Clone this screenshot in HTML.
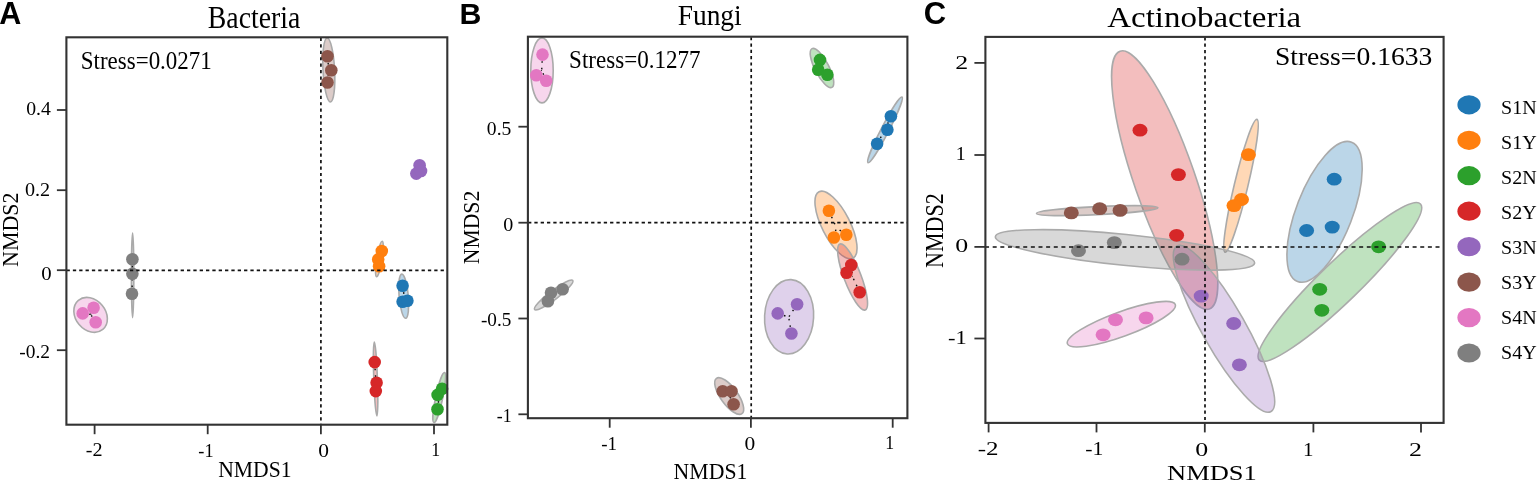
<!DOCTYPE html>
<html><head><meta charset="utf-8"><title>NMDS plots</title>
<style>html,body{margin:0;padding:0;background:#fff;overflow:hidden;}svg{display:block;}</style>
</head><body>
<svg width="1538" height="481" viewBox="0 0 1538 481">
<rect width="1538" height="481" fill="#fff"/>
<text x="-0.7" y="23.8" font-size="30.5" font-family="'Liberation Sans',Arial,sans-serif" font-weight="bold" text-anchor="start">A</text>
<text x="207.8" y="27.5" font-size="31.6" font-family="'Liberation Serif','Times New Roman',serif" font-weight="normal" text-anchor="start" textLength="92.5" lengthAdjust="spacingAndGlyphs">Bacteria</text>
<ellipse cx="328.8" cy="70" rx="32" ry="5.8" transform="rotate(87 328.8 70)" fill="#8c564b" fill-opacity="0.3" stroke="#aaaaaa" stroke-width="1.6"/>
<ellipse cx="132.6" cy="275.3" rx="42.3" ry="1.2" transform="rotate(90 132.6 275.3)" fill="#7f7f7f" fill-opacity="0.3" stroke="#aaaaaa" stroke-width="1.6"/>
<ellipse cx="90.6" cy="314.9" rx="19" ry="15" transform="rotate(50 90.6 314.9)" fill="#e377c2" fill-opacity="0.3" stroke="#aaaaaa" stroke-width="1.6"/>
<ellipse cx="379.4" cy="259" rx="18" ry="2.5" transform="rotate(99 379.4 259)" fill="#ff7f0e" fill-opacity="0.3" stroke="#aaaaaa" stroke-width="1.6"/>
<ellipse cx="403.7" cy="296.2" rx="22.2" ry="4.6" transform="rotate(85 403.7 296.2)" fill="#1f77b4" fill-opacity="0.3" stroke="#aaaaaa" stroke-width="1.6"/>
<ellipse cx="375.6" cy="379" rx="36.9" ry="1.8" transform="rotate(88 375.6 379)" fill="#d62728" fill-opacity="0.3" stroke="#aaaaaa" stroke-width="1.6"/>
<ellipse cx="439.25" cy="397.5" rx="25.6" ry="3.5" transform="rotate(102 439.25 397.5)" fill="#2ca02c" fill-opacity="0.3" stroke="#aaaaaa" stroke-width="1.6"/>
<ellipse cx="419" cy="170" rx="5" ry="2" transform="rotate(60 419 170)" fill="#9467bd" fill-opacity="0.3" stroke="#aaaaaa" stroke-width="1.6"/>
<line x1="327.5" y1="56.3" x2="328.8" y2="69.7" stroke="#111" stroke-width="1.4" stroke-dasharray="1.6 5"/>
<line x1="331.3" y1="70.3" x2="328.8" y2="69.7" stroke="#111" stroke-width="1.4" stroke-dasharray="1.6 5"/>
<line x1="327.5" y1="82.5" x2="328.8" y2="69.7" stroke="#111" stroke-width="1.4" stroke-dasharray="1.6 5"/>
<line x1="419.6" y1="165.3" x2="419.0" y2="170.0" stroke="#111" stroke-width="1.4" stroke-dasharray="1.6 5"/>
<line x1="416.3" y1="173.6" x2="419.0" y2="170.0" stroke="#111" stroke-width="1.4" stroke-dasharray="1.6 5"/>
<line x1="421" y1="171" x2="419.0" y2="170.0" stroke="#111" stroke-width="1.4" stroke-dasharray="1.6 5"/>
<line x1="132.4" y1="259.2" x2="132.3" y2="275.5" stroke="#111" stroke-width="1.4" stroke-dasharray="1.6 5"/>
<line x1="132.4" y1="273.7" x2="132.3" y2="275.5" stroke="#111" stroke-width="1.4" stroke-dasharray="1.6 5"/>
<line x1="132" y1="293.7" x2="132.3" y2="275.5" stroke="#111" stroke-width="1.4" stroke-dasharray="1.6 5"/>
<line x1="82.7" y1="313.4" x2="90.7" y2="314.4" stroke="#111" stroke-width="1.4" stroke-dasharray="1.6 5"/>
<line x1="93.6" y1="307.7" x2="90.7" y2="314.4" stroke="#111" stroke-width="1.4" stroke-dasharray="1.6 5"/>
<line x1="95.7" y1="322.2" x2="90.7" y2="314.4" stroke="#111" stroke-width="1.4" stroke-dasharray="1.6 5"/>
<line x1="381.8" y1="251" x2="379.7" y2="258.9" stroke="#111" stroke-width="1.4" stroke-dasharray="1.6 5"/>
<line x1="378.2" y1="259.4" x2="379.7" y2="258.9" stroke="#111" stroke-width="1.4" stroke-dasharray="1.6 5"/>
<line x1="379.1" y1="266.2" x2="379.7" y2="258.9" stroke="#111" stroke-width="1.4" stroke-dasharray="1.6 5"/>
<line x1="402.6" y1="285.7" x2="404.2" y2="296.0" stroke="#111" stroke-width="1.4" stroke-dasharray="1.6 5"/>
<line x1="402.6" y1="301.7" x2="404.2" y2="296.0" stroke="#111" stroke-width="1.4" stroke-dasharray="1.6 5"/>
<line x1="407.4" y1="300.7" x2="404.2" y2="296.0" stroke="#111" stroke-width="1.4" stroke-dasharray="1.6 5"/>
<line x1="374.7" y1="362.1" x2="375.7" y2="378.6" stroke="#111" stroke-width="1.4" stroke-dasharray="1.6 5"/>
<line x1="376.6" y1="382.7" x2="375.7" y2="378.6" stroke="#111" stroke-width="1.4" stroke-dasharray="1.6 5"/>
<line x1="375.8" y1="391.1" x2="375.7" y2="378.6" stroke="#111" stroke-width="1.4" stroke-dasharray="1.6 5"/>
<line x1="442.1" y1="388.7" x2="439.1" y2="397.6" stroke="#111" stroke-width="1.4" stroke-dasharray="1.6 5"/>
<line x1="437.6" y1="394.9" x2="439.1" y2="397.6" stroke="#111" stroke-width="1.4" stroke-dasharray="1.6 5"/>
<line x1="437.5" y1="409.3" x2="439.1" y2="397.6" stroke="#111" stroke-width="1.4" stroke-dasharray="1.6 5"/>
<circle cx="327.5" cy="56.3" r="6.3" fill="#8c564b"/>
<circle cx="331.3" cy="70.3" r="6.3" fill="#8c564b"/>
<circle cx="327.5" cy="82.5" r="6.3" fill="#8c564b"/>
<circle cx="419.6" cy="165.3" r="6.3" fill="#9467bd"/>
<circle cx="416.3" cy="173.6" r="6.3" fill="#9467bd"/>
<circle cx="421" cy="171" r="6.3" fill="#9467bd"/>
<circle cx="132.4" cy="259.2" r="6.3" fill="#7f7f7f"/>
<circle cx="132.4" cy="273.7" r="6.3" fill="#7f7f7f"/>
<circle cx="132" cy="293.7" r="6.3" fill="#7f7f7f"/>
<circle cx="82.7" cy="313.4" r="6.3" fill="#e377c2"/>
<circle cx="93.6" cy="307.7" r="6.3" fill="#e377c2"/>
<circle cx="95.7" cy="322.2" r="6.3" fill="#e377c2"/>
<circle cx="381.8" cy="251" r="6.3" fill="#ff7f0e"/>
<circle cx="378.2" cy="259.4" r="6.3" fill="#ff7f0e"/>
<circle cx="379.1" cy="266.2" r="6.3" fill="#ff7f0e"/>
<circle cx="402.6" cy="285.7" r="6.3" fill="#1f77b4"/>
<circle cx="402.6" cy="301.7" r="6.3" fill="#1f77b4"/>
<circle cx="407.4" cy="300.7" r="6.3" fill="#1f77b4"/>
<circle cx="374.7" cy="362.1" r="6.3" fill="#d62728"/>
<circle cx="376.6" cy="382.7" r="6.3" fill="#d62728"/>
<circle cx="375.8" cy="391.1" r="6.3" fill="#d62728"/>
<circle cx="442.1" cy="388.7" r="6.3" fill="#2ca02c"/>
<circle cx="437.6" cy="394.9" r="6.3" fill="#2ca02c"/>
<circle cx="437.5" cy="409.3" r="6.3" fill="#2ca02c"/>
<line x1="320.9" y1="37.3" x2="320.9" y2="424.7" stroke="#111" stroke-width="1.7" stroke-dasharray="3.2 3.23" stroke-dashoffset="5.87"/>
<line x1="66.4" y1="270.3" x2="447.3" y2="270.3" stroke="#111" stroke-width="1.7" stroke-dasharray="3.3 3.04" stroke-dashoffset="6.21"/>
<rect x="66.4" y="37.3" width="380.9" height="387.4" fill="none" stroke="#333" stroke-width="2.1"/>
<text x="80.8" y="69" font-size="25.8" font-family="'Liberation Serif','Times New Roman',serif" font-weight="normal" text-anchor="start" textLength="131" lengthAdjust="spacingAndGlyphs">Stress=0.0271</text>
<line x1="56.900000000000006" y1="110" x2="66.4" y2="110" stroke="#333" stroke-width="1.8"/>
<line x1="56.900000000000006" y1="190.2" x2="66.4" y2="190.2" stroke="#333" stroke-width="1.8"/>
<line x1="56.900000000000006" y1="270.2" x2="66.4" y2="270.2" stroke="#333" stroke-width="1.8"/>
<line x1="56.900000000000006" y1="350.2" x2="66.4" y2="350.2" stroke="#333" stroke-width="1.8"/>
<line x1="94.6" y1="424.7" x2="94.6" y2="434.2" stroke="#333" stroke-width="1.8"/>
<line x1="207.7" y1="424.7" x2="207.7" y2="434.2" stroke="#333" stroke-width="1.8"/>
<line x1="320.9" y1="424.7" x2="320.9" y2="434.2" stroke="#333" stroke-width="1.8"/>
<line x1="434" y1="424.7" x2="434" y2="434.2" stroke="#333" stroke-width="1.8"/>
<text x="218.2" y="477.1" font-size="23" font-family="'Liberation Serif','Times New Roman',serif" font-weight="normal" text-anchor="start" textLength="73.4" lengthAdjust="spacingAndGlyphs">NMDS1</text>
<text transform="translate(17.7,229.7) rotate(-90)" x="0" y="0" font-size="23.6" font-family="'Liberation Serif','Times New Roman',serif" text-anchor="middle" textLength="74.5" lengthAdjust="spacingAndGlyphs">NMDS2</text>
<text x="459.6" y="24.1" font-size="30.3" font-family="'Liberation Sans',Arial,sans-serif" font-weight="bold" text-anchor="start">B</text>
<text x="677.7" y="24.8" font-size="30.3" font-family="'Liberation Serif','Times New Roman',serif" font-weight="normal" text-anchor="start" textLength="64" lengthAdjust="spacingAndGlyphs">Fungi</text>
<ellipse cx="542" cy="70.4" rx="32.5" ry="11.2" transform="rotate(90 542 70.4)" fill="#e377c2" fill-opacity="0.3" stroke="#aaaaaa" stroke-width="1.6"/>
<ellipse cx="822" cy="68" rx="21.8" ry="7" transform="rotate(62.7 822 68)" fill="#2ca02c" fill-opacity="0.3" stroke="#aaaaaa" stroke-width="1.6"/>
<ellipse cx="885" cy="129.9" rx="37" ry="3.8" transform="rotate(-62.6 885 129.9)" fill="#1f77b4" fill-opacity="0.3" stroke="#aaaaaa" stroke-width="1.6"/>
<ellipse cx="836.0" cy="225" rx="37.3" ry="14" transform="rotate(63 836.0 225)" fill="#ff7f0e" fill-opacity="0.3" stroke="#aaaaaa" stroke-width="1.6"/>
<ellipse cx="852.6" cy="277" rx="35.3" ry="8.5" transform="rotate(69 852.6 277)" fill="#d62728" fill-opacity="0.3" stroke="#aaaaaa" stroke-width="1.6"/>
<ellipse cx="789.1" cy="316.8" rx="37.2" ry="24.5" transform="rotate(93 789.1 316.8)" fill="#9467bd" fill-opacity="0.3" stroke="#aaaaaa" stroke-width="1.6"/>
<ellipse cx="553.7" cy="295" rx="24" ry="4.5" transform="rotate(-37.3 553.7 295)" fill="#7f7f7f" fill-opacity="0.3" stroke="#aaaaaa" stroke-width="1.6"/>
<ellipse cx="729.2" cy="396" rx="21.8" ry="8.5" transform="rotate(54.2 729.2 396)" fill="#8c564b" fill-opacity="0.3" stroke="#aaaaaa" stroke-width="1.6"/>
<line x1="542.5" y1="54.6" x2="541.7" y2="70.2" stroke="#111" stroke-width="1.4" stroke-dasharray="1.6 5"/>
<line x1="536.3" y1="75.3" x2="541.7" y2="70.2" stroke="#111" stroke-width="1.4" stroke-dasharray="1.6 5"/>
<line x1="546.2" y1="80.8" x2="541.7" y2="70.2" stroke="#111" stroke-width="1.4" stroke-dasharray="1.6 5"/>
<line x1="820" y1="59.9" x2="821.9" y2="68.2" stroke="#111" stroke-width="1.4" stroke-dasharray="1.6 5"/>
<line x1="818.2" y1="69.8" x2="821.9" y2="68.2" stroke="#111" stroke-width="1.4" stroke-dasharray="1.6 5"/>
<line x1="827.4" y1="74.8" x2="821.9" y2="68.2" stroke="#111" stroke-width="1.4" stroke-dasharray="1.6 5"/>
<line x1="890.9" y1="116.3" x2="885.1" y2="129.9" stroke="#111" stroke-width="1.4" stroke-dasharray="1.6 5"/>
<line x1="887.4" y1="129.7" x2="885.1" y2="129.9" stroke="#111" stroke-width="1.4" stroke-dasharray="1.6 5"/>
<line x1="877.1" y1="143.7" x2="885.1" y2="129.9" stroke="#111" stroke-width="1.4" stroke-dasharray="1.6 5"/>
<line x1="828.9" y1="210.8" x2="836.4" y2="227.7" stroke="#111" stroke-width="1.4" stroke-dasharray="1.6 5"/>
<line x1="833.9" y1="237.5" x2="836.4" y2="227.7" stroke="#111" stroke-width="1.4" stroke-dasharray="1.6 5"/>
<line x1="846.3" y1="234.7" x2="836.4" y2="227.7" stroke="#111" stroke-width="1.4" stroke-dasharray="1.6 5"/>
<line x1="851.3" y1="265" x2="852.5" y2="276.7" stroke="#111" stroke-width="1.4" stroke-dasharray="1.6 5"/>
<line x1="846.5" y1="272.8" x2="852.5" y2="276.7" stroke="#111" stroke-width="1.4" stroke-dasharray="1.6 5"/>
<line x1="859.7" y1="292.2" x2="852.5" y2="276.7" stroke="#111" stroke-width="1.4" stroke-dasharray="1.6 5"/>
<line x1="777.7" y1="313.4" x2="788.7" y2="317.1" stroke="#111" stroke-width="1.4" stroke-dasharray="1.6 5"/>
<line x1="797.1" y1="304.3" x2="788.7" y2="317.1" stroke="#111" stroke-width="1.4" stroke-dasharray="1.6 5"/>
<line x1="791.4" y1="333.5" x2="788.7" y2="317.1" stroke="#111" stroke-width="1.4" stroke-dasharray="1.6 5"/>
<line x1="562.6" y1="289.2" x2="553.8" y2="294.4" stroke="#111" stroke-width="1.4" stroke-dasharray="1.6 5"/>
<line x1="551" y1="292.7" x2="553.8" y2="294.4" stroke="#111" stroke-width="1.4" stroke-dasharray="1.6 5"/>
<line x1="547.9" y1="301.2" x2="553.8" y2="294.4" stroke="#111" stroke-width="1.4" stroke-dasharray="1.6 5"/>
<line x1="722.7" y1="391.3" x2="729.3" y2="395.6" stroke="#111" stroke-width="1.4" stroke-dasharray="1.6 5"/>
<line x1="731.5" y1="391.3" x2="729.3" y2="395.6" stroke="#111" stroke-width="1.4" stroke-dasharray="1.6 5"/>
<line x1="733.6" y1="404.3" x2="729.3" y2="395.6" stroke="#111" stroke-width="1.4" stroke-dasharray="1.6 5"/>
<circle cx="542.5" cy="54.6" r="6.3" fill="#e377c2"/>
<circle cx="536.3" cy="75.3" r="6.3" fill="#e377c2"/>
<circle cx="546.2" cy="80.8" r="6.3" fill="#e377c2"/>
<circle cx="820" cy="59.9" r="6.3" fill="#2ca02c"/>
<circle cx="818.2" cy="69.8" r="6.3" fill="#2ca02c"/>
<circle cx="827.4" cy="74.8" r="6.3" fill="#2ca02c"/>
<circle cx="890.9" cy="116.3" r="6.3" fill="#1f77b4"/>
<circle cx="887.4" cy="129.7" r="6.3" fill="#1f77b4"/>
<circle cx="877.1" cy="143.7" r="6.3" fill="#1f77b4"/>
<circle cx="828.9" cy="210.8" r="6.3" fill="#ff7f0e"/>
<circle cx="833.9" cy="237.5" r="6.3" fill="#ff7f0e"/>
<circle cx="846.3" cy="234.7" r="6.3" fill="#ff7f0e"/>
<circle cx="851.3" cy="265" r="6.3" fill="#d62728"/>
<circle cx="846.5" cy="272.8" r="6.3" fill="#d62728"/>
<circle cx="859.7" cy="292.2" r="6.3" fill="#d62728"/>
<circle cx="777.7" cy="313.4" r="6.3" fill="#9467bd"/>
<circle cx="797.1" cy="304.3" r="6.3" fill="#9467bd"/>
<circle cx="791.4" cy="333.5" r="6.3" fill="#9467bd"/>
<circle cx="562.6" cy="289.2" r="6.3" fill="#7f7f7f"/>
<circle cx="551" cy="292.7" r="6.3" fill="#7f7f7f"/>
<circle cx="547.9" cy="301.2" r="6.3" fill="#7f7f7f"/>
<circle cx="722.7" cy="391.3" r="6.3" fill="#8c564b"/>
<circle cx="731.5" cy="391.3" r="6.3" fill="#8c564b"/>
<circle cx="733.6" cy="404.3" r="6.3" fill="#8c564b"/>
<line x1="751.2" y1="36.7" x2="751.2" y2="418.2" stroke="#111" stroke-width="1.7" stroke-dasharray="3.2 3.11" stroke-dashoffset="5.84"/>
<line x1="527.9" y1="222.7" x2="907.4" y2="222.7" stroke="#111" stroke-width="1.7" stroke-dasharray="3.3 3.01" stroke-dashoffset="6.16"/>
<rect x="527.9" y="36.7" width="379.5" height="381.5" fill="none" stroke="#333" stroke-width="2.1"/>
<text x="569.1" y="67.7" font-size="25.4" font-family="'Liberation Serif','Times New Roman',serif" font-weight="normal" text-anchor="start" textLength="131.4" lengthAdjust="spacingAndGlyphs">Stress=0.1277</text>
<line x1="518.4" y1="126.7" x2="527.9" y2="126.7" stroke="#333" stroke-width="1.8"/>
<line x1="518.4" y1="222.7" x2="527.9" y2="222.7" stroke="#333" stroke-width="1.8"/>
<line x1="518.4" y1="318.5" x2="527.9" y2="318.5" stroke="#333" stroke-width="1.8"/>
<line x1="518.4" y1="414.3" x2="527.9" y2="414.3" stroke="#333" stroke-width="1.8"/>
<line x1="609.7" y1="418.2" x2="609.7" y2="427.7" stroke="#333" stroke-width="1.8"/>
<line x1="750.9" y1="418.2" x2="750.9" y2="427.7" stroke="#333" stroke-width="1.8"/>
<line x1="892.7" y1="418.2" x2="892.7" y2="427.7" stroke="#333" stroke-width="1.8"/>
<text x="673.6" y="478.8" font-size="23" font-family="'Liberation Serif','Times New Roman',serif" font-weight="normal" text-anchor="start" textLength="73.8" lengthAdjust="spacingAndGlyphs">NMDS1</text>
<text transform="translate(478.6,227.5) rotate(-90)" x="0" y="0" font-size="23.6" font-family="'Liberation Serif','Times New Roman',serif" text-anchor="middle" textLength="73.5" lengthAdjust="spacingAndGlyphs">NMDS2</text>
<text x="923.8" y="24.3" font-size="31" font-family="'Liberation Sans',Arial,sans-serif" font-weight="bold" text-anchor="start">C</text>
<text x="1107.3" y="27.4" font-size="30" font-family="'Liberation Serif','Times New Roman',serif" font-weight="normal" text-anchor="start" textLength="193.9" lengthAdjust="spacingAndGlyphs">Actinobacteria</text>
<ellipse cx="1324.55" cy="211.85" rx="74.7" ry="28.1" transform="rotate(-68.8 1324.55 211.85)" fill="#1f77b4" fill-opacity="0.3" stroke="#aaaaaa" stroke-width="1.6"/>
<ellipse cx="1241" cy="185.8" rx="68.3" ry="6.8" transform="rotate(-76.5 1241 185.8)" fill="#ff7f0e" fill-opacity="0.3" stroke="#aaaaaa" stroke-width="1.6"/>
<ellipse cx="1339.9" cy="282.05" rx="112.2" ry="20.0" transform="rotate(-44.1 1339.9 282.05)" fill="#2ca02c" fill-opacity="0.3" stroke="#aaaaaa" stroke-width="1.6"/>
<ellipse cx="1164.7" cy="180.05" rx="136.4" ry="30.4" transform="rotate(70.9 1164.7 180.05)" fill="#d62728" fill-opacity="0.3" stroke="#aaaaaa" stroke-width="1.6"/>
<ellipse cx="1224" cy="328.75" rx="95.2" ry="21.5" transform="rotate(60.4 1224 328.75)" fill="#9467bd" fill-opacity="0.3" stroke="#aaaaaa" stroke-width="1.6"/>
<ellipse cx="1097.2" cy="210.6" rx="60.8" ry="4.0" transform="rotate(-2.7 1097.2 210.6)" fill="#8c564b" fill-opacity="0.3" stroke="#aaaaaa" stroke-width="1.6"/>
<ellipse cx="1121.35" cy="324.2" rx="57.4" ry="12.3" transform="rotate(-20 1121.35 324.2)" fill="#e377c2" fill-opacity="0.3" stroke="#aaaaaa" stroke-width="1.6"/>
<ellipse cx="1125" cy="249.9" rx="130.3" ry="15.5" transform="rotate(5.8 1125 249.9)" fill="#7f7f7f" fill-opacity="0.3" stroke="#aaaaaa" stroke-width="1.6"/>
<ellipse cx="1334.2" cy="179.2" rx="7.5" ry="6.4" fill="#1f77b4"/>
<ellipse cx="1306.6" cy="230.5" rx="7.5" ry="6.4" fill="#1f77b4"/>
<ellipse cx="1332.2" cy="227.1" rx="7.5" ry="6.4" fill="#1f77b4"/>
<ellipse cx="1248.4" cy="154.7" rx="7.5" ry="6.4" fill="#ff7f0e"/>
<ellipse cx="1241.5" cy="199.5" rx="7.5" ry="6.4" fill="#ff7f0e"/>
<ellipse cx="1234" cy="205.6" rx="7.5" ry="6.4" fill="#ff7f0e"/>
<ellipse cx="1378.6" cy="246.8" rx="7.5" ry="6.4" fill="#2ca02c"/>
<ellipse cx="1319.7" cy="289.3" rx="7.5" ry="6.4" fill="#2ca02c"/>
<ellipse cx="1321.8" cy="310.3" rx="7.5" ry="6.4" fill="#2ca02c"/>
<ellipse cx="1140" cy="130.2" rx="7.5" ry="6.4" fill="#d62728"/>
<ellipse cx="1178.4" cy="174.6" rx="7.5" ry="6.4" fill="#d62728"/>
<ellipse cx="1176.6" cy="235.3" rx="7.5" ry="6.4" fill="#d62728"/>
<ellipse cx="1201.2" cy="296.1" rx="7.5" ry="6.4" fill="#9467bd"/>
<ellipse cx="1233.7" cy="323.5" rx="7.5" ry="6.4" fill="#9467bd"/>
<ellipse cx="1239.4" cy="364.8" rx="7.5" ry="6.4" fill="#9467bd"/>
<ellipse cx="1071.3" cy="212.9" rx="7.5" ry="6.4" fill="#8c564b"/>
<ellipse cx="1099.7" cy="208.7" rx="7.5" ry="6.4" fill="#8c564b"/>
<ellipse cx="1120.1" cy="210.4" rx="7.5" ry="6.4" fill="#8c564b"/>
<ellipse cx="1115.5" cy="319.8" rx="7.5" ry="6.4" fill="#e377c2"/>
<ellipse cx="1146.1" cy="317.9" rx="7.5" ry="6.4" fill="#e377c2"/>
<ellipse cx="1103.1" cy="334.8" rx="7.5" ry="6.4" fill="#e377c2"/>
<ellipse cx="1078.5" cy="250.7" rx="7.5" ry="6.4" fill="#7f7f7f"/>
<ellipse cx="1114.3" cy="242.6" rx="7.5" ry="6.4" fill="#7f7f7f"/>
<ellipse cx="1182" cy="259.2" rx="7.5" ry="6.4" fill="#7f7f7f"/>
<line x1="1205.0" y1="36.9" x2="1205.0" y2="422.9" stroke="#111" stroke-width="1.7" stroke-dasharray="3.2 3.127" stroke-dashoffset="5.93"/>
<line x1="985.4" y1="247.0" x2="1443.6" y2="247.0" stroke="#111" stroke-width="1.7" stroke-dasharray="4.0 3.635" stroke-dashoffset="0.35"/>
<rect x="985.4" y="36.9" width="458.19999999999993" height="386.0" fill="none" stroke="#333" stroke-width="2.1"/>
<text x="1274.9" y="65.3" font-size="24.9" font-family="'Liberation Serif','Times New Roman',serif" font-weight="normal" text-anchor="start" textLength="157.5" lengthAdjust="spacingAndGlyphs">Stress=0.1633</text>
<line x1="974.4" y1="62.9" x2="985.4" y2="62.9" stroke="#333" stroke-width="1.8"/>
<line x1="974.4" y1="155.0" x2="985.4" y2="155.0" stroke="#333" stroke-width="1.8"/>
<line x1="974.4" y1="246.9" x2="985.4" y2="246.9" stroke="#333" stroke-width="1.8"/>
<line x1="974.4" y1="338.5" x2="985.4" y2="338.5" stroke="#333" stroke-width="1.8"/>
<line x1="988.6" y1="422.9" x2="988.6" y2="432.4" stroke="#333" stroke-width="1.8"/>
<line x1="1096.5" y1="422.9" x2="1096.5" y2="432.4" stroke="#333" stroke-width="1.8"/>
<line x1="1204.8" y1="422.9" x2="1204.8" y2="432.4" stroke="#333" stroke-width="1.8"/>
<line x1="1313.4" y1="422.9" x2="1313.4" y2="432.4" stroke="#333" stroke-width="1.8"/>
<line x1="1421" y1="422.9" x2="1421" y2="432.4" stroke="#333" stroke-width="1.8"/>
<text x="1167" y="479.8" font-size="22" font-family="'Liberation Serif','Times New Roman',serif" font-weight="normal" text-anchor="start" textLength="89.8" lengthAdjust="spacingAndGlyphs">NMDS1</text>
<text transform="translate(943.4,230.65) rotate(-90)" x="0" y="0" font-size="25.6" font-family="'Liberation Serif','Times New Roman',serif" text-anchor="middle" textLength="74.8" lengthAdjust="spacingAndGlyphs">NMDS2</text>
<text x="26.22" y="115.1" font-size="19.4" font-family="'Liberation Serif','Times New Roman',serif" font-weight="normal" text-anchor="start" textLength="24.68" lengthAdjust="spacingAndGlyphs">0.4</text>
<text x="25.03" y="195.9" font-size="19.4" font-family="'Liberation Serif','Times New Roman',serif" font-weight="normal" text-anchor="start" textLength="25.19" lengthAdjust="spacingAndGlyphs">0.2</text>
<text x="41.31" y="279.72" font-size="19.4" font-family="'Liberation Serif','Times New Roman',serif" font-weight="normal" text-anchor="start" textLength="10.4" lengthAdjust="spacingAndGlyphs">0</text>
<text x="19.32" y="358.1" font-size="19.4" font-family="'Liberation Serif','Times New Roman',serif" font-weight="normal" text-anchor="start">-0.2</text>
<text x="85.8" y="456.4" font-size="19.4" font-family="'Liberation Serif','Times New Roman',serif" font-weight="normal" text-anchor="start" textLength="16.77" lengthAdjust="spacingAndGlyphs">-2</text>
<text x="198.32" y="456.51" font-size="19.4" font-family="'Liberation Serif','Times New Roman',serif" font-weight="normal" text-anchor="start" textLength="15.25" lengthAdjust="spacingAndGlyphs">-1</text>
<text x="318.39" y="456.82" font-size="19.4" font-family="'Liberation Serif','Times New Roman',serif" font-weight="normal" text-anchor="start" textLength="10.75" lengthAdjust="spacingAndGlyphs">0</text>
<text x="431.17" y="456.2" font-size="19.4" font-family="'Liberation Serif','Times New Roman',serif" font-weight="normal" text-anchor="start" textLength="8.93" lengthAdjust="spacingAndGlyphs">1</text>
<text x="486.84" y="135.22" font-size="19.4" font-family="'Liberation Serif','Times New Roman',serif" font-weight="normal" text-anchor="start" textLength="24.53" lengthAdjust="spacingAndGlyphs">0.5</text>
<text x="503.2" y="230.74" font-size="19.4" font-family="'Liberation Serif','Times New Roman',serif" font-weight="normal" text-anchor="start" textLength="10.04" lengthAdjust="spacingAndGlyphs">0</text>
<text x="480.94" y="326.2" font-size="19.4" font-family="'Liberation Serif','Times New Roman',serif" font-weight="normal" text-anchor="start" textLength="30.4" lengthAdjust="spacingAndGlyphs">-0.5</text>
<text x="496.78" y="421.5" font-size="19.4" font-family="'Liberation Serif','Times New Roman',serif" font-weight="normal" text-anchor="start" textLength="14.86" lengthAdjust="spacingAndGlyphs">-1</text>
<text x="601.13" y="449.7" font-size="19.4" font-family="'Liberation Serif','Times New Roman',serif" font-weight="normal" text-anchor="start" textLength="15.83" lengthAdjust="spacingAndGlyphs">-1</text>
<text x="744.49" y="449.82" font-size="19.4" font-family="'Liberation Serif','Times New Roman',serif" font-weight="normal" text-anchor="start" textLength="10.75" lengthAdjust="spacingAndGlyphs">0</text>
<text x="885.27" y="449.2" font-size="19.4" font-family="'Liberation Serif','Times New Roman',serif" font-weight="normal" text-anchor="start" textLength="8.93" lengthAdjust="spacingAndGlyphs">1</text>
<text x="955.16" y="68.5" font-size="19.2" font-family="'Liberation Serif','Times New Roman',serif" font-weight="normal" text-anchor="start" textLength="12.94" lengthAdjust="spacingAndGlyphs">2</text>
<text x="955.72" y="160.1" font-size="19.2" font-family="'Liberation Serif','Times New Roman',serif" font-weight="normal" text-anchor="start" textLength="9.96" lengthAdjust="spacingAndGlyphs">1</text>
<text x="955.18" y="252.11" font-size="19.2" font-family="'Liberation Serif','Times New Roman',serif" font-weight="normal" text-anchor="start" textLength="12.95" lengthAdjust="spacingAndGlyphs">0</text>
<text x="948.12" y="343.7" font-size="19.2" font-family="'Liberation Serif','Times New Roman',serif" font-weight="normal" text-anchor="start" textLength="18.7" lengthAdjust="spacingAndGlyphs">-1</text>
<text x="977.73" y="455.3" font-size="19.2" font-family="'Liberation Serif','Times New Roman',serif" font-weight="normal" text-anchor="start" textLength="20.82" lengthAdjust="spacingAndGlyphs">-2</text>
<text x="1085.29" y="455.32" font-size="19.2" font-family="'Liberation Serif','Times New Roman',serif" font-weight="normal" text-anchor="start" textLength="18.12" lengthAdjust="spacingAndGlyphs">-1</text>
<text x="1195.23" y="455.61" font-size="19.2" font-family="'Liberation Serif','Times New Roman',serif" font-weight="normal" text-anchor="start" textLength="12.95" lengthAdjust="spacingAndGlyphs">0</text>
<text x="1302.94" y="455.5" font-size="19.2" font-family="'Liberation Serif','Times New Roman',serif" font-weight="normal" text-anchor="start" textLength="10.49" lengthAdjust="spacingAndGlyphs">1</text>
<text x="1408.9" y="455.5" font-size="19.2" font-family="'Liberation Serif','Times New Roman',serif" font-weight="normal" text-anchor="start" textLength="12.95" lengthAdjust="spacingAndGlyphs">2</text>
<ellipse cx="1469" cy="104.8" rx="11.6" ry="9.6" fill="#1f77b4"/>
<text x="1501" y="113.9" font-size="18.4" font-family="'Liberation Serif','Times New Roman',serif" font-weight="normal" text-anchor="start" textLength="35.6" lengthAdjust="spacingAndGlyphs">S1N</text>
<ellipse cx="1469" cy="140.3" rx="11.6" ry="9.6" fill="#ff7f0e"/>
<text x="1501" y="148.9" font-size="18.4" font-family="'Liberation Serif','Times New Roman',serif" font-weight="normal" text-anchor="start" textLength="35.6" lengthAdjust="spacingAndGlyphs">S1Y</text>
<ellipse cx="1469" cy="175.7" rx="11.6" ry="9.6" fill="#2ca02c"/>
<text x="1501" y="184.0" font-size="18.4" font-family="'Liberation Serif','Times New Roman',serif" font-weight="normal" text-anchor="start" textLength="35.6" lengthAdjust="spacingAndGlyphs">S2N</text>
<ellipse cx="1469" cy="211.2" rx="11.6" ry="9.6" fill="#d62728"/>
<text x="1501" y="219.0" font-size="18.4" font-family="'Liberation Serif','Times New Roman',serif" font-weight="normal" text-anchor="start" textLength="35.6" lengthAdjust="spacingAndGlyphs">S2Y</text>
<ellipse cx="1469" cy="246.6" rx="11.6" ry="9.6" fill="#9467bd"/>
<text x="1501" y="254.0" font-size="18.4" font-family="'Liberation Serif','Times New Roman',serif" font-weight="normal" text-anchor="start" textLength="35.6" lengthAdjust="spacingAndGlyphs">S3N</text>
<ellipse cx="1469" cy="282.1" rx="11.6" ry="9.6" fill="#8c564b"/>
<text x="1501" y="289.1" font-size="18.4" font-family="'Liberation Serif','Times New Roman',serif" font-weight="normal" text-anchor="start" textLength="35.6" lengthAdjust="spacingAndGlyphs">S3Y</text>
<ellipse cx="1469" cy="317.6" rx="11.6" ry="9.6" fill="#e377c2"/>
<text x="1501" y="324.1" font-size="18.4" font-family="'Liberation Serif','Times New Roman',serif" font-weight="normal" text-anchor="start" textLength="35.6" lengthAdjust="spacingAndGlyphs">S4N</text>
<ellipse cx="1469" cy="353.0" rx="11.6" ry="9.6" fill="#7f7f7f"/>
<text x="1501" y="359.1" font-size="18.4" font-family="'Liberation Serif','Times New Roman',serif" font-weight="normal" text-anchor="start" textLength="35.6" lengthAdjust="spacingAndGlyphs">S4Y</text>
</svg>
</body></html>
